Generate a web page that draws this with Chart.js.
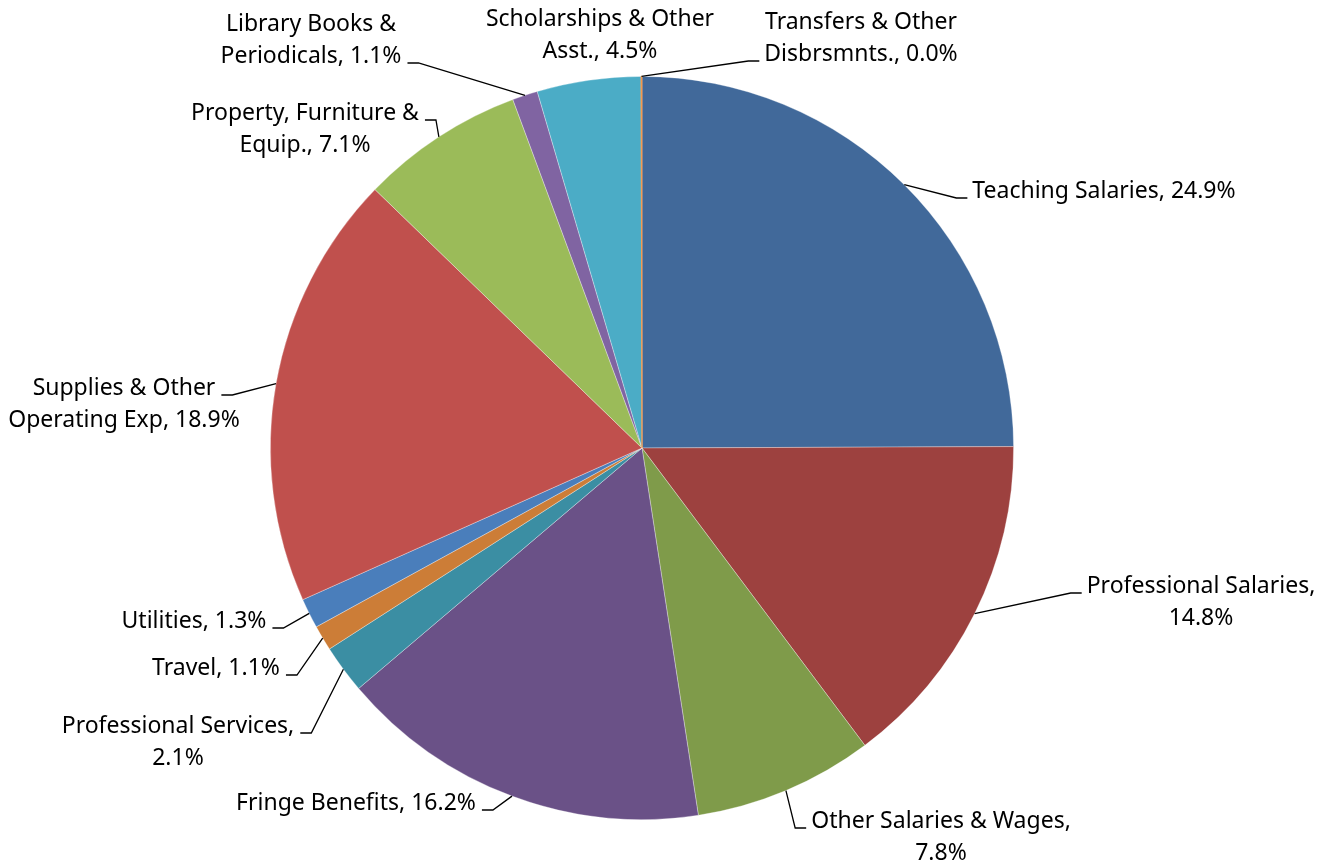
<!DOCTYPE html>
<html>
<head>
<meta charset="utf-8">
<script src="https://cdn.jsdelivr.net/npm/chart.js@4.4.0/dist/chart.umd.min.js"></script>
<style>
  html, body { margin: 0; padding: 0; background: #fff; }
</style>
</head>
<body>
<canvas id="pieChart" width="1328" height="863"></canvas>
<script>
var categories = ['Teaching Salaries', 'Professional Salaries', 'Other Salaries & Wages',
  'Fringe Benefits', 'Professional Services', 'Travel', 'Utilities',
  'Supplies & Other Operating Exp', 'Property, Furniture & Equip.',
  'Library Books & Periodicals', 'Scholarships & Other Asst.', 'Transfers & Other Disbrsmnts.'];
var shares = [24.9, 14.8, 7.8, 16.2, 2.1, 1.1, 1.3, 18.9, 7.1, 1.1, 4.5, 0.04];
var sliceColors = ['#41699A', '#9D413F', '#7F9B4A', '#6A5187', '#3B8EA3', '#CC7D37',
  '#4A7EBB', '#C0504D', '#9BBB59', '#8064A2', '#4BACC6', '#F79646'];

// where each label block sits (centre x, first line centre y) and which line gets the leader
var labelSpots = [
  {x: 1104, y: 190, side: 'R', line: 0},
  {x: 1201, y: 585, side: 'R', line: 0},
  {x: 941,  y: 820, side: 'R', line: 0},
  {x: 356,  y: 802, side: 'L', line: 0},
  {x: 178,  y: 725, side: 'L', line: 0},
  {x: 216,  y: 667, side: 'L', line: 0},
  {x: 194,  y: 620, side: 'L', line: 0},
  {x: 124,  y: 387, side: 'L', line: 0},
  {x: 305,  y: 112, side: 'L', line: 0},
  {x: 311,  y: 23,  side: 'L', line: 1},
  {x: 600,  y: 18,  side: null, line: 0},
  {x: 861,  y: 21,  side: 'R', line: 1}
];

var FONT = '23px "Noto Sans"';
var LINE_H = 32;
var WRAP_W = 275;

function wrapText(ctx, text, maxW) {
  var words = text.split(' ');
  var lines = [];
  var cur = '';
  words.forEach(function(w) {
    var test = cur ? cur + ' ' + w : w;
    if (cur && ctx.measureText(test).width > maxW) {
      lines.push(cur);
      cur = w;
    } else {
      cur = test;
    }
  });
  if (cur) lines.push(cur);
  return lines;
}

var pieLabels = {
  id: 'pieLabels',
  afterDatasetsDraw: function(chart) {
    var ctx = chart.ctx;
    var arcs = chart.getDatasetMeta(0).data;
    ctx.save();
    ctx.font = FONT;
    ctx.fillStyle = '#000';
    ctx.strokeStyle = '#000';
    ctx.lineWidth = 1.3;
    ctx.textBaseline = 'alphabetic';
    arcs.forEach(function(arc, i) {
      var p = arc.getProps(['x', 'y', 'startAngle', 'endAngle', 'outerRadius'], true);
      var mid = (p.startAngle + p.endAngle) / 2;
      var sx = p.x + Math.cos(mid) * p.outerRadius;
      var sy = p.y + Math.sin(mid) * p.outerRadius;
      var text = categories[i] + ', ' + shares[i].toFixed(1) + '%';
      var lines = wrapText(ctx, text, WRAP_W);
      var spot = labelSpots[i];
      lines.forEach(function(ln, k) {
        var w = ctx.measureText(ln).width;
        ctx.fillText(ln, spot.x - w / 2, spot.y + k * LINE_H + 8);
      });
      if (spot.side) {
        var lw = ctx.measureText(lines[spot.line]).width;
        var ly = spot.y + spot.line * LINE_H + 8;
        var ax = spot.side === 'R' ? spot.x - lw / 2 - 5 : spot.x + lw / 2 + 6;
        var ex = spot.side === 'R' ? ax - 11 : ax + 11;
        ctx.beginPath();
        ctx.moveTo(sx, sy);
        ctx.lineTo(ex, ly);
        ctx.lineTo(ax, ly);
        ctx.stroke();
      }
    });
    ctx.restore();
  }
};

var borderCols = sliceColors.map(function(c, i) { return i === sliceColors.length - 1 ? c : 'rgba(255,255,255,0.4)'; });

var ctx = document.getElementById('pieChart').getContext('2d');
var pieChart = new Chart(ctx, {
  type: 'pie',
  data: {
    labels: categories,
    datasets: [{
      data: shares,
      backgroundColor: sliceColors,
      borderColor: borderCols,
      borderWidth: 0.8
    }]
  },
  options: {
    responsive: false,
    animation: false,
    layout: { padding: { top: 76, bottom: 43, left: 0, right: 44 } },
    plugins: {
      legend: { display: false },
      tooltip: { enabled: false }
    }
  },
  plugins: [pieLabels]
});
</script>
</body>
</html>
